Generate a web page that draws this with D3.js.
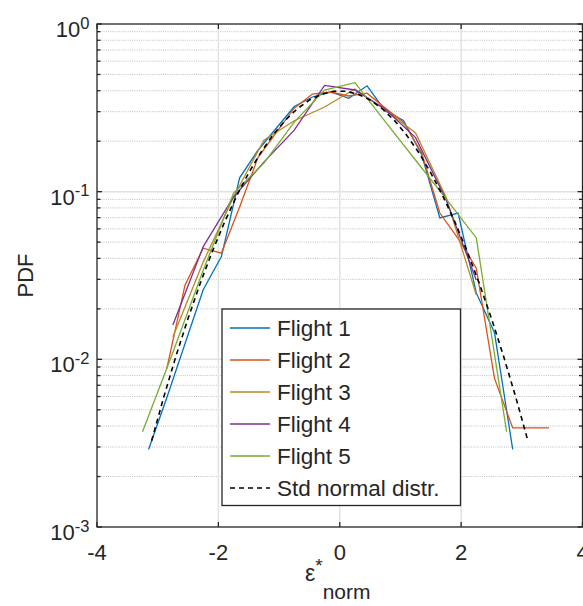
<!DOCTYPE html>
<html>
<head>
<meta charset="utf-8">
<script src="https://cdn.jsdelivr.net/npm/d3@7"></script>
<style>
body { margin: 0; background: #fff; }
svg { display: block; }
text { font-family: "Liberation Sans", Arial, Helvetica, sans-serif; fill: #262626; }
</style>
</head>
<body>
<svg id="chart" width="583" height="606"></svg>
<script>
// values
let seriesNames = ["Flight 1", "Flight 2", "Flight 3", "Flight 4", "Flight 5", "Std normal distr."];
let seriesColors = ["#0072BD", "#D95319", "#B88A24", "#7E2F8E", "#77AC30", "#000000"];

let flight1X = [-3.15, -2.85, -2.55, -2.25, -1.95, -1.65, -1.35, -1.05, -0.75, -0.45, -0.15, 0.15, 0.45, 0.75, 1.05, 1.35, 1.65, 1.95, 2.25, 2.55, 2.85];
let flight1Y = [0.0029, 0.0059, 0.0124, 0.026, 0.041, 0.121, 0.176, 0.238, 0.322, 0.367, 0.393, 0.36, 0.428, 0.303, 0.266, 0.166, 0.0697, 0.0746, 0.0249, 0.0144, 0.0029];

let flight2X = [-2.85, -2.55, -2.25, -1.95, -1.65, -1.35, -1.05, -0.75, -0.45, -0.15, 0.15, 0.45, 0.75, 1.05, 1.35, 1.65, 1.95, 2.25, 2.55, 2.85, 3.45];
let flight2Y = [0.0088, 0.0277, 0.046, 0.043, 0.081, 0.159, 0.224, 0.315, 0.382, 0.393, 0.372, 0.387, 0.315, 0.26, 0.17, 0.0746, 0.0525, 0.035, 0.0077, 0.0039, 0.0039];

let flight3X = [-2.75, -2.25, -1.75, -1.25, -0.75, -0.25, 0.25, 0.75, 1.25, 1.75, 2.25];
let flight3Y = [0.0136, 0.038, 0.093, 0.203, 0.265, 0.32, 0.41, 0.307, 0.224, 0.093, 0.0242];

let flight4X = [-2.75, -2.25, -1.75, -1.25, -0.75, -0.25, 0.25, 0.75, 1.25, 1.75, 2.25];
let flight4Y = [0.016, 0.047, 0.093, 0.15, 0.233, 0.43, 0.404, 0.31, 0.21, 0.09, 0.0297];

let flight5X = [-3.25, -2.75, -2.25, -1.75, -1.25, -0.75, -0.25, 0.25, 0.75, 1.25, 1.75, 2.25, 2.75];
let flight5Y = [0.0037, 0.011, 0.034, 0.098, 0.148, 0.26, 0.404, 0.447, 0.262, 0.154, 0.091, 0.053, 0.0037];

let normX = [-3.1, -2.9, -2.7, -2.5, -2.3, -2.1, -1.9, -1.7, -1.5, -1.3, -1.1, -0.9, -0.7, -0.5, -0.3, -0.1,
             0.1, 0.3, 0.5, 0.7, 0.9, 1.1, 1.3, 1.5, 1.7, 1.9, 2.1, 2.3, 2.5, 2.7, 2.9, 3.1];
let normY = [0.003267, 0.005953, 0.010421, 0.017528, 0.028327, 0.043984, 0.065616, 0.094049, 0.129518, 0.171369, 0.217852, 0.266085, 0.312254, 0.352065, 0.381388, 0.396953,
             0.396953, 0.381388, 0.352065, 0.312254, 0.266085, 0.217852, 0.171369, 0.129518, 0.094049, 0.065616, 0.043984, 0.028327, 0.017528, 0.010421, 0.005953, 0.003267];

let xTicks = [-4, -2, 0, 2, 4];
let yDecades = [0, -1, -2, -3];

let svg = d3.select("#chart");
let axLeft = 97, axRight = 582.5, axTop = 24, axBottom = 527;

let x = d3.scaleLinear().domain([-4, 4]).range([axLeft, axRight]);
let y = d3.scaleLog().domain([1e-3, 1]).range([axBottom, axTop]);

// minor values 2..9 per decade
let minorVals = [];
[-3, -2, -1].forEach(d => { for (let m = 2; m <= 9; m++) minorVals.push(m * Math.pow(10, d)); });

// grid
let grid = svg.append("g");
grid.selectAll(".minor").data(minorVals).enter().append("line")
    .attr("x1", axLeft).attr("x2", axRight)
    .attr("y1", d => y(d)).attr("y2", d => y(d))
    .attr("stroke", "#c0c0c0").attr("stroke-width", 1).attr("stroke-dasharray", "1,1.2");
grid.selectAll(".majx").data(xTicks.slice(1, -1)).enter().append("line")
    .attr("x1", d => x(d)).attr("x2", d => x(d))
    .attr("y1", axTop).attr("y2", axBottom)
    .attr("stroke", "#e2e2e2").attr("stroke-width", 1.5);
grid.selectAll(".majy").data(yDecades.slice(1, -1)).enter().append("line")
    .attr("x1", axLeft).attr("x2", axRight)
    .attr("y1", d => y(Math.pow(10, d))).attr("y2", d => y(Math.pow(10, d)))
    .attr("stroke", "#e2e2e2").attr("stroke-width", 1.5);

// series
let series = [
    [flight1X, flight1Y], [flight2X, flight2Y], [flight3X, flight3Y],
    [flight4X, flight4Y], [flight5X, flight5Y], [normX, normY]
];
let line = d3.line().x(d => x(d[0])).y(d => y(d[1]));
series.forEach((s, i) => {
    let pts = s[0].map((v, j) => [v, s[1][j]]);
    svg.append("path")
        .attr("d", line(pts))
        .attr("fill", "none")
        .attr("stroke", seriesColors[i])
        .attr("stroke-width", i === 5 ? 1.6 : 1.3)
        .attr("stroke-dasharray", i === 5 ? "5,4" : null);
});

// axes box and ticks
let ax = svg.append("g").attr("stroke", "#262626");
ax.append("rect").attr("x", axLeft).attr("y", axTop)
    .attr("width", axRight - axLeft).attr("height", axBottom - axTop)
    .attr("fill", "none").attr("stroke-width", 1.3);
xTicks.forEach(t => {
    ax.append("line").attr("x1", x(t)).attr("x2", x(t)).attr("y1", axBottom).attr("y2", axBottom - 5).attr("stroke-width", 1.3);
    ax.append("line").attr("x1", x(t)).attr("x2", x(t)).attr("y1", axTop).attr("y2", axTop + 5).attr("stroke-width", 1.3);
});
yDecades.forEach(d => {
    let yy = y(Math.pow(10, d));
    ax.append("line").attr("x1", axLeft).attr("x2", axLeft + 5).attr("y1", yy).attr("y2", yy).attr("stroke-width", 1.3);
    ax.append("line").attr("x1", axRight).attr("x2", axRight - 5).attr("y1", yy).attr("y2", yy).attr("stroke-width", 1.3);
});
minorVals.forEach(v => {
    ax.append("line").attr("x1", axLeft).attr("x2", axLeft + 3.5).attr("y1", y(v)).attr("y2", y(v)).attr("stroke-width", 1.3);
    ax.append("line").attr("x1", axRight).attr("x2", axRight - 3.5).attr("y1", y(v)).attr("y2", y(v)).attr("stroke-width", 1.3);
});

// tick labels
svg.selectAll(".xt").data(xTicks).enter().append("text")
    .attr("x", d => x(d)).attr("y", axBottom + 33)
    .attr("text-anchor", "middle").attr("font-size", 22)
    .text(d => d);
yDecades.forEach(d => {
    let t = svg.append("text")
        .attr("x", axLeft - 7.5).attr("y", y(Math.pow(10, d)) + 13)
        .attr("text-anchor", "end").attr("font-size", 22);
    t.append("tspan").text("10");
    t.append("tspan").attr("font-size", 16.5).attr("dy", -8.5).text(d);
});

// axis labels
svg.append("text")
    .attr("transform", "translate(33," + (axTop + axBottom) / 2 + ") rotate(-90)")
    .attr("text-anchor", "middle").attr("font-size", 22)
    .text("PDF");
let xl = svg.append("text")
    .attr("x", (axLeft + axRight) / 2 - 2).attr("y", 581)
    .attr("text-anchor", "middle").attr("font-size", 23);
xl.append("tspan").text("\u03B5");
xl.append("tspan").attr("font-size", 19).attr("dy", -9).text("*");
xl.append("tspan").attr("font-size", 21).attr("dy", 27).text("norm");

// legend
let lg = svg.append("g");
lg.append("rect").attr("x", 222).attr("y", 309).attr("width", 238.5).attr("height", 196.5)
    .attr("fill", "#fff").attr("stroke", "#262626").attr("stroke-width", 1.3);
seriesNames.forEach((name, i) => {
    let cy = 328 + i * 32;
    lg.append("line").attr("x1", 230).attr("x2", 270).attr("y1", cy).attr("y2", cy)
        .attr("stroke", seriesColors[i])
        .attr("stroke-width", i === 5 ? 1.6 : 1.3)
        .attr("stroke-dasharray", i === 5 ? "5,4" : null);
    lg.append("text").attr("x", 277).attr("y", cy + 8).attr("font-size", 22.5).text(name);
});
</script>
</body>
</html>
